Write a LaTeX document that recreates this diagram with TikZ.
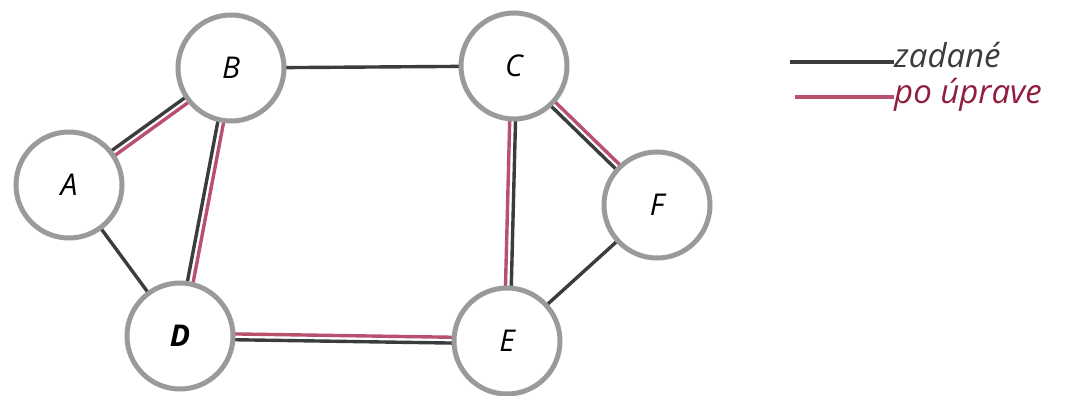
\documentclass[tikz,border=0pt]{standalone}
\usepackage{fontspec}
\setmainfont{Open Sans}
\usetikzlibrary{calc,backgrounds}
\definecolor{edgedark}{HTML}{3A3D3C}
\definecolor{edgered}{HTML}{B8506E}
\definecolor{legred}{HTML}{8E1F3F}
\definecolor{ringgray}{HTML}{9A9A9A}
\tikzset{
  vert/.style={circle, draw=ringgray, line width=5pt, fill=white, minimum size=106pt, inner sep=0pt, font=\fontsize{30}{34}\selectfont\itshape},
  darkline/.style={draw=edgedark, line width=3.4pt},
  redline/.style={draw=edgered, line width=3.4pt},
  legtext/.style={anchor=base west, inner sep=0pt, font=\fontsize{33}{38}\selectfont\itshape}
}
\newcommand{\dbl}[2]{%
  \draw[darkline] ($(#1.center)!2.9pt!90:(#2.center)$) -- ($(#2.center)!2.9pt!-90:(#1.center)$);
  \draw[redline] ($(#1.center)!2.9pt!-90:(#2.center)$) -- ($(#2.center)!2.9pt!90:(#1.center)$);
}
\begin{document}
\begin{tikzpicture}[x=1pt,y=-1pt]
\useasboundingbox (0,0) rectangle (1065,396);
\node[vert] (A) at (69,185) {A};
\node[vert] (B) at (231,68) {B};
\node[vert] (C) at (514,66) {C};
\node[vert] (F) at (657,205) {F};
\node[vert] (D) at (180,336) {\bfseries D};
\node[vert] (E) at (507,341) {E};
\begin{pgfonlayer}{background}
  \draw[darkline] (B.center) -- (C.center);
  \draw[darkline] (A.center) -- (D.center);
  \draw[darkline] (E.center) -- (F.center);
  \dbl{A}{B}
  \dbl{D}{B}
  \dbl{E}{D}
  \dbl{C}{E}
  \dbl{F}{C}
\end{pgfonlayer}
% legend
\node[legtext, text=edgedark] (t1) at (894,67) {zadané};
\node[legtext, text=legred] (t2) at (894,103) {po úprave};
\coordinate (l1) at (790,62);
\coordinate (l2) at (795,97);
\draw[darkline] (l1) -- (l1 -| t1.west);
\draw[redline] (l2) -- (l2 -| t2.west);
\end{tikzpicture}
\end{document}
